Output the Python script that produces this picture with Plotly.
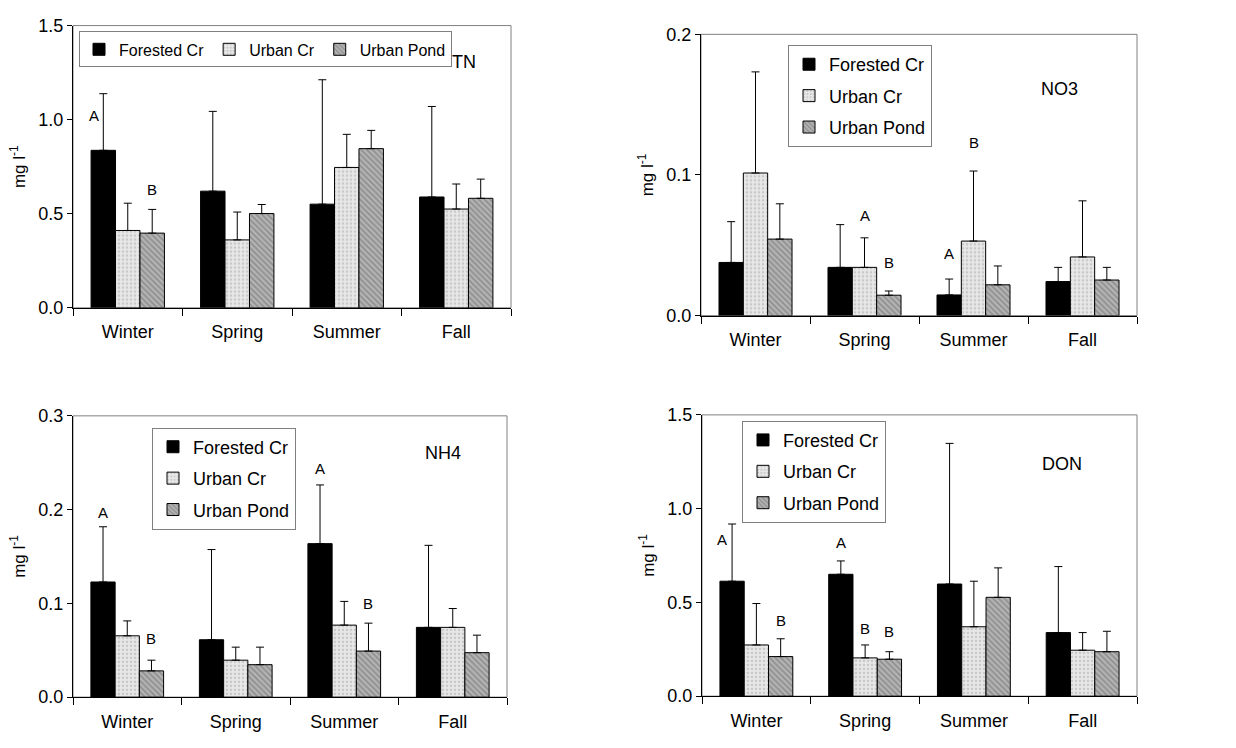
import plotly.graph_objects as go

seasons = ["Winter", "Spring", "Summer", "Fall"]
series_names = ["Forested Cr", "Urban Cr", "Urban Pond"]

# TN
tn_forested = [0.837, 0.620, 0.551, 0.589]
tn_forested_err = [0.301, 0.424, 0.661, 0.481]
tn_urbancr = [0.411, 0.361, 0.746, 0.525]
tn_urbancr_err = [0.145, 0.148, 0.176, 0.133]
tn_urbanpond = [0.397, 0.501, 0.846, 0.582]
tn_urbanpond_err = [0.126, 0.048, 0.097, 0.102]

# NO3
no3_forested = [0.0378, 0.0343, 0.0147, 0.0242]
no3_forested_err = [0.0290, 0.0304, 0.0113, 0.0101]
no3_urbancr = [0.1014, 0.0343, 0.0530, 0.0417]
no3_urbancr_err = [0.0719, 0.0210, 0.0498, 0.0399]
no3_urbanpond = [0.0544, 0.0145, 0.0219, 0.0253]
no3_urbanpond_err = [0.0251, 0.0030, 0.0134, 0.0090]

# NH4
nh4_forested = [0.1228, 0.0612, 0.1637, 0.0744]
nh4_forested_err = [0.0589, 0.0962, 0.0626, 0.0875]
nh4_urbancr = [0.0654, 0.0394, 0.0768, 0.0744]
nh4_urbancr_err = [0.0159, 0.0139, 0.0253, 0.0201]
nh4_urbanpond = [0.0280, 0.0346, 0.0491, 0.0474]
nh4_urbanpond_err = [0.0114, 0.0187, 0.0298, 0.0187]

# DON
don_forested = [0.613, 0.650, 0.598, 0.339]
don_forested_err = [0.305, 0.071, 0.750, 0.352]
don_urbancr = [0.273, 0.204, 0.370, 0.245]
don_urbancr_err = [0.221, 0.069, 0.243, 0.094]
don_urbanpond = [0.211, 0.197, 0.527, 0.237]
don_urbanpond_err = [0.095, 0.040, 0.157, 0.109]

panel_labels = ["TN", "NO3", "NH4", "DON"]
y_ranges = [[0, 1.5], [0, 0.2], [0, 0.3], [0, 1.5]]
y_dticks = [0.5, 0.1, 0.1, 0.5]

# significance letters: (season index, series index, letter, height, shift in category units)
tn_letters = [(0, 0, "A", 1.022, -0.087), (0, 2, "B", 0.628, 0.0)]
no3_letters = [(1, 1, "A", 0.0714, 0.0), (1, 2, "B", 0.0378, 0.0),
               (2, 0, "A", 0.044, 0.0), (2, 1, "B", 0.1233, 0.0)]
nh4_letters = [(0, 0, "A", 0.197, 0.0), (0, 2, "B", 0.0623, 0.0),
               (2, 0, "A", 0.2443, 0.0), (2, 2, "B", 0.0997, 0.0)]
don_letters = [(0, 0, "A", 0.835, -0.092), (0, 2, "B", 0.406, 0.0), (1, 0, "A", 0.821, 0.0),
               (1, 1, "B", 0.359, 0.0), (1, 2, "B", 0.346, 0.0)]

panels = [
    (tn_forested, tn_forested_err, tn_urbancr, tn_urbancr_err, tn_urbanpond, tn_urbanpond_err, tn_letters),
    (no3_forested, no3_forested_err, no3_urbancr, no3_urbancr_err, no3_urbanpond, no3_urbanpond_err, no3_letters),
    (nh4_forested, nh4_forested_err, nh4_urbancr, nh4_urbancr_err, nh4_urbanpond, nh4_urbanpond_err, nh4_letters),
    (don_forested, don_forested_err, don_urbancr, don_urbancr_err, don_urbanpond, don_urbanpond_err, don_letters),
]

W, H = 1236, 748
FONT = "Liberation Sans, Arial, sans-serif"

# pixel boxes for each plot area: (left, right, top, bottom)
boxes = [(73, 511, 16, 306), (701, 1137, 25, 314), (73, 507, 417, 706), (702, 1137, 416, 705)]
label_pos = [(464, 53), (1059, 81), (443, 455), (1062, 466)]
legend_pos = [(79, 22, "h", 16), (788, 36, "v", 18), (152, 429, "v", 18), (742, 422, "v", 18)]

styles = [
    dict(color="#000000", pattern=None),
    dict(color="#e4e4e4",
         pattern=dict(shape=".", fgcolor="#a8a8a8", bgcolor="#e8e8e8", size=4, solidity=0.35)),
    dict(color="#a0a0a0",
         pattern=dict(shape="\\", fgcolor="#6a6a6a", bgcolor="#b4b4b4", size=4, solidity=0.45)),
]

fig = go.Figure()
layout_upd = {}
annotations = []
shapes = []

for i, p in enumerate(panels):
    means = [p[0], p[2], p[4]]
    errs = [p[1], p[3], p[5]]
    letters = p[6]
    ax = "" if i == 0 else str(i + 1)
    leg = "legend" if i == 0 else "legend" + str(i + 1)
    for s in range(3):
        st = styles[s]
        marker = dict(color=st["color"], line=dict(color="#000000", width=1))
        if st["pattern"] is not None:
            marker["pattern"] = st["pattern"]
        fig.add_trace(go.Bar(
            x=seasons, y=means[s], name=series_names[s],
            marker=marker,
            error_y=dict(type="data", array=errs[s], arrayminus=[0] * 4, symmetric=False,
                         color="#000000", thickness=1, width=4),
            xaxis="x" + ax, yaxis="y" + ax, legend=leg,
            legendgroup="g%d_%d" % (i, s),
        ))
    l, r, t, b = boxes[i]
    layout_upd["xaxis" + ax] = dict(
        domain=[l / W, r / W], anchor="y" + ax, type="category",
        tickson="boundaries", ticks="outside", ticklen=7, tickcolor="#000",
        showline=True, linecolor="#000", linewidth=1, showgrid=False,
        ticklabelstandoff=8,
        tickfont=dict(family=FONT, size=18, color="#000"),
    )
    layout_upd["yaxis" + ax] = dict(
        domain=[1 - b / H, 1 - t / H], anchor="x" + ax, range=y_ranges[i],
        dtick=y_dticks[i], tickformat=".1f", ticks="outside", ticklen=5, tickcolor="#000",
        showline=True, linecolor="#000", linewidth=1, showgrid=False, zeroline=False,
        tickfont=dict(family=FONT, size=18, color="#000"),
        title=dict(text="mg l<sup>-1</sup>", font=dict(family=FONT, size=17, color="#000"), standoff=8),
    )
    # gray frame on top/right
    shapes.append(dict(type="rect", xref="x%s domain" % ax, yref="y%s domain" % ax,
                       x0=0, x1=1, y0=0, y1=1, line=dict(color="#808080", width=1), layer="below"))
    lx, ly = label_pos[i]
    annotations.append(dict(text=panel_labels[i], x=lx / W, y=1 - ly / H, xref="paper", yref="paper",
                            xanchor="center", yanchor="middle", showarrow=False,
                            font=dict(family=FONT, size=18, color="#000")))
    for (si, ser, txt, hy, dx) in letters:
        annotations.append(dict(text=txt, x=si + (ser - 1) * 0.2233 + dx, y=hy,
                                xref="x" + ax, yref="y" + ax, showarrow=False,
                                xanchor="center", yanchor="middle",
                                font=dict(family=FONT, size=15, color="#000")))
    gx, gy, orient, fs = legend_pos[i]
    layout_upd[leg] = dict(
        x=gx / W, y=1 - gy / H, xanchor="left", yanchor="top", orientation=orient,
        bgcolor="#ffffff", bordercolor="#808080", borderwidth=1,
        font=dict(family=FONT, size=fs, color="#000"),
        tracegroupgap=5 if orient == "v" else 0,
        itemwidth=30,
    )

fig.update_layout(
    width=W, height=H, margin=dict(l=0, r=0, t=0, b=0),
    paper_bgcolor="#ffffff", plot_bgcolor="#ffffff",
    barmode="group", bargap=0.33, bargroupgap=0,
    showlegend=True, annotations=annotations, shapes=shapes,
    font=dict(family=FONT, color="#000"),
    **layout_upd,
)

fig.write_html("out.html", post_script="document.body.style.margin='0';")
